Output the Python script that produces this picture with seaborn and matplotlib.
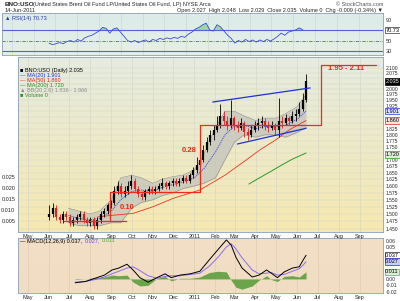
import numpy as np
import pandas as pd
import matplotlib
matplotlib.use("Agg")
import matplotlib.pyplot as plt
from matplotlib.colors import LinearSegmentedColormap
from matplotlib.ticker import FixedLocator, NullLocator, NullFormatter, FormatStrFormatter
import seaborn as sns

# ---------------- data ----------------
bar_start, bar_end, n_bars = "2010-06-02", "2011-06-14", 76
opens = [1.49,1.50,1.52,1.49,1.48,1.50,1.49,1.47,1.48,1.49,1.50,1.48,1.47,1.48,1.46,1.48,1.50,1.51,1.53,1.54,
         1.58,1.60,1.57,1.58,1.60,1.62,1.59,1.57,1.56,1.58,1.59,1.58,1.59,1.60,1.61,1.60,1.61,1.62,1.61,1.62,
         1.63,1.62,1.64,1.66,1.68,1.70,1.74,1.77,1.80,1.82,1.84,1.88,1.86,1.84,1.87,1.84,1.83,1.85,1.81,1.80,
         1.82,1.84,1.85,1.86,1.84,1.83,1.84,1.82,1.86,1.85,1.87,1.86,1.88,1.89,1.91,1.95]
highs = [1.53,1.54,1.53,1.50,1.51,1.51,1.50,1.49,1.50,1.51,1.51,1.49,1.49,1.49,1.49,1.51,1.52,1.54,1.55,1.60,
         1.62,1.61,1.60,1.62,1.64,1.63,1.60,1.58,1.59,1.60,1.60,1.60,1.61,1.63,1.62,1.62,1.63,1.63,1.63,1.64,
         1.64,1.65,1.67,1.71,1.71,1.76,1.79,1.82,1.84,1.88,1.93,1.90,1.88,1.95,1.88,1.86,1.87,1.86,1.83,1.84,
         1.86,1.87,1.88,1.87,1.86,1.86,1.85,1.96,1.88,1.89,1.88,1.90,1.91,1.94,1.98,2.07]
lows = [1.48,1.49,1.48,1.47,1.47,1.48,1.46,1.46,1.47,1.48,1.47,1.46,1.46,1.45,1.45,1.47,1.49,1.50,1.52,1.53,
        1.57,1.56,1.56,1.57,1.59,1.58,1.56,1.55,1.55,1.57,1.57,1.57,1.58,1.59,1.59,1.59,1.60,1.60,1.60,1.61,
        1.61,1.61,1.63,1.65,1.66,1.69,1.73,1.76,1.78,1.81,1.83,1.84,1.82,1.83,1.82,1.81,1.82,1.79,1.78,1.79,
        1.81,1.82,1.83,1.82,1.81,1.82,1.80,1.79,1.83,1.84,1.84,1.85,1.86,1.88,1.90,1.94]
closes = [1.50,1.52,1.49,1.48,1.50,1.49,1.47,1.48,1.49,1.50,1.48,1.47,1.48,1.46,1.48,1.50,1.51,1.53,1.54,1.58,
          1.60,1.57,1.58,1.60,1.62,1.59,1.57,1.56,1.58,1.59,1.58,1.59,1.60,1.61,1.60,1.61,1.62,1.61,1.62,1.63,
          1.62,1.64,1.66,1.68,1.70,1.74,1.77,1.80,1.82,1.84,1.88,1.86,1.84,1.87,1.84,1.83,1.85,1.81,1.80,1.82,
          1.84,1.85,1.86,1.84,1.83,1.84,1.82,1.86,1.85,1.87,1.86,1.88,1.89,1.91,1.95,2.035]
volume = [0.004,0.005,0.003,0.004,0.003,0.002,0.003,0.002,0.003,0.002,0.003,0.002,0.003,0.004,0.003,0.002,0.003,0.004,0.003,0.005,
          0.005,0.004,0.003,0.004,0.003,0.004,0.003,0.002,0.003,0.002,0.004,0.003,0.005,0.006,0.003,0.002,0.003,0.002,0.002,0.003,
          0.002,0.002,0.003,0.002,0.003,0.002,0.003,0.004,0.003,0.005,0.004,0.003,0.004,0.008,0.006,0.007,0.005,0.008,0.006,0.009,
          0.008,0.013,0.021,0.012,0.009,0.011,0.012,0.008,0.010,0.007,0.006,0.009,0.008,0.007,0.010,0.013]
rsi_vals = [45,42,44,46,44,48,50,47,52,49,55,58,60,64,68,75,73,64,72,74,66,58,50,47,50,46,49,51,47,52,50,54,52,55,53,56,
            54,58,56,62,66,72,75,80,83,70,68,80,76,68,60,54,45,50,47,52,48,51,47,51,48,52,49,53,58,64,60,66,68,70,74,70.73]

bb_dates = ["2010-06-30","2010-07-15","2010-08-01","2010-08-15","2010-09-01","2010-09-15","2010-10-01","2010-10-15",
            "2010-11-01","2010-11-15","2010-12-01","2010-12-15","2011-01-01","2011-01-15","2011-02-01","2011-02-15",
            "2011-03-01","2011-03-15","2011-04-01","2011-04-15","2011-05-01","2011-05-15","2011-06-01","2011-06-14"]
ma20 = [1.495,1.485,1.480,1.485,1.510,1.550,1.580,1.585,1.580,1.595,1.605,1.615,1.630,1.665,1.730,1.800,
        1.835,1.840,1.825,1.835,1.835,1.840,1.865,1.901]
bb_up = [1.52,1.51,1.50,1.51,1.55,1.63,1.64,1.63,1.61,1.625,1.635,1.64,1.66,1.72,1.83,1.90,
         1.90,1.88,1.86,1.87,1.87,1.89,1.92,1.975]
bb_lo = [1.47,1.46,1.46,1.46,1.47,1.47,1.52,1.54,1.55,1.565,1.575,1.59,1.60,1.61,1.63,1.70,
         1.77,1.80,1.79,1.80,1.80,1.79,1.81,1.83]

ma50_dates = ["2010-08-12","2010-09-01","2010-10-03","2010-11-01","2010-12-01","2011-01-09","2011-02-15",
              "2011-03-24","2011-04-07","2011-05-01","2011-05-20","2011-06-14"]
ma50 = [1.49,1.495,1.502,1.525,1.555,1.585,1.64,1.71,1.738,1.78,1.82,1.86]
ma200_dates = ["2011-03-22","2011-04-10","2011-04-25","2011-05-10","2011-05-25","2011-06-14"]
ma200 = [1.607,1.635,1.657,1.680,1.702,1.726]

macd_dates = ["2010-07-10","2010-07-25","2010-08-08","2010-08-22","2010-09-02","2010-09-12","2010-09-24","2010-10-03",
              "2010-10-13","2010-10-25","2010-11-07","2010-11-19","2010-11-28","2010-12-11","2010-12-26","2011-01-09",
              "2011-01-23","2011-02-04","2011-02-17","2011-02-24","2011-03-03","2011-03-12","2011-03-27","2011-04-06",
              "2011-04-17","2011-04-24","2011-05-03","2011-05-13","2011-05-25","2011-06-04","2011-06-10","2011-06-14"]
macd = [-0.006,-0.004,0.001,0.006,0.014,0.017,0.023,0.014,0.002,-0.005,0.002,0.008,0.002,0.006,0.008,0.012,
        0.030,0.045,0.061,0.053,0.034,0.017,0.003,0.006,0.014,0.009,0.002,0.011,0.017,0.019,0.030,0.037]
signal = [-0.005,-0.004,-0.001,0.003,0.008,0.012,0.017,0.019,0.013,0.005,0.001,0.004,0.005,0.005,0.007,0.009,
          0.020,0.033,0.050,0.055,0.047,0.033,0.014,0.008,0.009,0.010,0.006,0.007,0.012,0.016,0.022,0.027]
hist = [-0.001,0.000,0.002,0.003,0.006,0.005,0.006,-0.005,-0.011,-0.010,0.001,0.004,-0.003,0.001,0.001,0.003,
        0.010,0.012,0.011,-0.002,-0.013,-0.016,-0.011,-0.002,0.005,-0.001,-0.004,0.004,0.005,0.003,0.008,0.011]

# measured-move annotation levels and dates
bracket_dates = ["2010-06-24","2010-08-30","2010-09-22","2011-01-09","2011-07-06","2011-09-24"]
bracket_levels = [1.475, 1.578, 1.840, 2.115]
channel_upper = (["2011-01-28","2011-06-20"], [1.941, 2.005])
channel_lower = (["2011-03-05","2011-06-14"], [1.762, 1.827])

month_ticks = ["2010-05-01","2010-06-01","2010-07-01","2010-08-01","2010-09-01","2010-10-01","2010-11-01",
               "2010-12-01","2011-01-01","2011-02-01","2011-03-01","2011-04-01","2011-05-01","2011-06-01",
               "2011-07-01","2011-08-01","2011-09-01"]
month_labels = ["May","Jun","Jul","Aug","Sep","Oct","Nov","Dec","2011","Feb","Mar","Apr","May","Jun","Jul","Aug","Sep"]
price_grid = [1.450,1.475,1.500,1.525,1.550,1.575,1.600,1.625,1.650,1.675,1.700,1.725,1.750,1.775,1.800,
              1.825,1.850,1.875,1.900,1.925,1.950,1.975,2.000,2.025,2.050,2.075,2.100]
price_labels = [1.450,1.475,1.500,1.525,1.550,1.575,1.600,1.625,1.650,1.675,1.700,1.750,1.775,1.800,
                1.825,1.925,1.950,1.975,2.000,2.075,2.100]
vol_ticks = [0.005,0.010,0.015,0.020,0.025]
macd_ticks = [-0.02, -0.01, 0.0, 0.05, 0.06]

# ---------------- styling ----------------
sns.set_theme(style="white")
plt.rcParams["font.family"] = ["Liberation Sans", "DejaVu Sans"]
FS = 4.0
W, H = 400, 301
fig = plt.figure(figsize=(4.0, 3.01), dpi=100)
fig.patch.set_facecolor("white")

XL = (pd.Timestamp("2010-04-17"), pd.Timestamp("2011-10-05"))
mt = pd.to_datetime(month_ticks)

def axpix(x0, y0, x1, y1, **kw):
    return fig.add_axes([x0 / W, 1 - y1 / H, (x1 - x0) / W, (y1 - y0) / H], **kw)

def panel(x0, y0, x1, y1, c_top, c_bot):
    bg = axpix(x0, y0, x1, y1)
    cmap = LinearSegmentedColormap.from_list("g", [c_top, c_bot])
    bg.imshow(np.linspace(0, 1, 64)[:, None], cmap=cmap, aspect="auto", extent=[0, 1, 0, 1], origin="upper")
    bg.set_axis_off()
    ax = axpix(x0, y0, x1, y1)
    ax.patch.set_alpha(0)
    for s in ax.spines.values():
        s.set_color("#8c9fb5")
        s.set_linewidth(0.6)
    ax.set_xlim(*XL)
    return ax

def box(ax, y, txt, fc, ec, tc="black", trans=None):
    ax.text(1.006, y, txt, transform=trans, fontsize=FS, color=tc, va="center", ha="left",
            bbox=dict(boxstyle="square,pad=0.12", fc=fc, ec=ec, lw=0.5), clip_on=False, zorder=10)

def chain(prev, txt, color, fs=FS, gap=1.5):
    # place a text right after a previous text, on the same baseline
    return prev.axes.annotate(txt, xy=(1, 0), xycoords=prev, xytext=(gap, 0), textcoords="offset points",
                              fontsize=fs, color=color, va="bottom", ha="left") if prev.axes is not None else \
        fig.text(0, 0, "")

dates = pd.date_range(bar_start, bar_end, periods=n_bars)

# ---------------- RSI panel ----------------
ax_r = panel(2, 13, 383, 55, "#dcebe9", "#e6efe6")
ax_r.set_ylim(22.4, 102.4)
rsi_df = pd.DataFrame({"date": dates[4:], "rsi": rsi_vals})
for lv in (70, 30):
    ax_r.axhline(lv, color="#5560dd", lw=0.8)
ax_r.axhline(50, color="#5560dd", lw=0.6, ls=(0, (4, 1.5, 1, 1.5)))
for d in mt:
    ax_r.axvline(d, color="#c9d3d3", lw=0.4, zorder=0)
ax_r.fill_between(rsi_df["date"], 70, rsi_df["rsi"], where=np.array(rsi_vals) > 70,
                  color="#8fd08f", alpha=0.8, interpolate=True, lw=0)
sns.lineplot(data=rsi_df, x="date", y="rsi", ax=ax_r, color="#3a4bd0", lw=0.6)
ax_r.set_xlabel(""); ax_r.set_ylabel("")
ax_r.xaxis.set_major_locator(NullLocator())
ax_r.yaxis.tick_right()
ax_r.yaxis.set_major_locator(FixedLocator([90, 50, 30]))
ax_r.tick_params(axis="y", labelsize=FS, length=0, pad=2)
box(ax_r, 70, "70.73", "white", "#333333", trans=ax_r.get_yaxis_transform())
ax_r.text(0.008, 0.88, "\u25b2 RSI(14) 70.73", transform=ax_r.transAxes, fontsize=FS, color="#2a3aa0", va="center")

# ---------------- price panel ----------------
ax_p = panel(18, 57, 383, 232, "#e5ece0", "#f6e8b0")
ax_p.set_yscale("log")
ax_p.set_ylim(1.439, 2.153)
for d in mt:
    ax_p.axvline(d, color="#d3d3c6", lw=0.4, zorder=0)
for t in price_grid:
    ax_p.axhline(t, color="#d6d6c8", lw=0.35, zorder=0)

# volume on twin axis
ax_v = ax_p.twinx()
ax_v.set_ylim(0, 0.0795)
vcol = ["#8cc47c" if i == 0 or closes[i] >= closes[i - 1] else "#e68a8a" for i in range(n_bars)]
ax_v.bar(dates, volume, width=3.2, color=vcol, alpha=0.85, lw=0)
ax_v.yaxis.tick_left()
ax_v.yaxis.set_major_locator(FixedLocator(vol_ticks))
ax_v.yaxis.set_major_formatter(FormatStrFormatter("%.3f"))
ax_v.tick_params(axis="y", labelsize=FS, length=0, pad=2)
for s in ax_v.spines.values():
    s.set_visible(False)
ax_v.set_zorder(ax_p.get_zorder() - 0.5)
ax_p.set_zorder(ax_v.get_zorder() + 1)
ax_p.patch.set_alpha(0)

# Bollinger bands and moving averages
bbd = pd.to_datetime(bb_dates)
ax_p.fill_between(bbd, bb_lo, bb_up, color="#c3c3bb", alpha=0.75, lw=0)
bb_df = pd.DataFrame({"date": bbd, "up": bb_up, "lo": bb_lo, "ma20": ma20})
sns.lineplot(data=bb_df, x="date", y="up", ax=ax_p, color="#9a9a95", lw=0.5)
sns.lineplot(data=bb_df, x="date", y="lo", ax=ax_p, color="#9a9a95", lw=0.5)
sns.lineplot(data=bb_df, x="date", y="ma20", ax=ax_p, color="#3344dd", lw=0.6, ls=(0, (1.5, 1)))
sns.lineplot(data=pd.DataFrame({"date": pd.to_datetime(ma50_dates), "v": ma50}), x="date", y="v",
             ax=ax_p, color="#ee3322", lw=0.6)
sns.lineplot(data=pd.DataFrame({"date": pd.to_datetime(ma200_dates), "v": ma200}), x="date", y="v",
             ax=ax_p, color="#2a9a2a", lw=0.7)

# candles
ccol = ["black" if i == 0 or closes[i] >= closes[i - 1] else "#e02020" for i in range(n_bars)]
ax_p.vlines(dates, lows, highs, colors=ccol, lw=0.6, zorder=5)
ax_p.vlines(dates, opens, closes, colors=ccol, lw=1.6, zorder=5)

# measured-move brackets
bd = pd.to_datetime(bracket_dates)
L = bracket_levels
red = "#ee2a1a"
segs = [((bd[0], L[0]), (bd[2], L[0])), ((bd[1], L[0]), (bd[1], L[1])), ((bd[1], L[1]), (bd[3], L[1])),
        ((bd[3], L[1]), (bd[3], L[2])), ((bd[3], L[2]), (bd[4], L[2])), ((bd[4], L[2]), (bd[4], L[3])),
        ((bd[4], L[3]), (bd[5], L[3]))]
for (xa, ya), (xb, yb) in segs:
    ax_p.plot([xa, xb], [ya, yb], color=red, lw=0.9, zorder=6)
ax_p.text(pd.Timestamp("2010-09-13"), 1.524, "0.10", color=red, fontsize=5.5, fontweight="bold", ha="left", va="center")
ax_p.text(pd.Timestamp("2011-01-04"), 1.738, "0.28", color=red, fontsize=5.5, fontweight="bold", ha="right", va="center")
ax_p.text(pd.Timestamp("2011-08-12"), 2.099, "1.95 - 2.11", color=red, fontsize=5.5, fontweight="bold", ha="center", va="center")
for cd, cv in [channel_upper, channel_lower]:
    ax_p.plot(pd.to_datetime(cd), cv, color="#1f2fe0", lw=0.9, zorder=6)

ax_p.set_xlabel(""); ax_p.set_ylabel("")
ax_p.yaxis.tick_right()
ax_p.yaxis.set_major_locator(FixedLocator(price_labels))
ax_p.yaxis.set_minor_locator(NullLocator())
ax_p.yaxis.set_minor_formatter(NullFormatter())
ax_p.yaxis.set_major_formatter(FormatStrFormatter("%.3f"))
ax_p.tick_params(axis="y", labelsize=3.6, length=0, pad=2)
ax_p.set_xticks(mt)
ax_p.set_xticklabels(month_labels)
ax_p.tick_params(axis="x", labelsize=FS, length=0, pad=1.5)
ax_p.set_xlim(*XL)
ytr = ax_p.get_yaxis_transform()
box(ax_p, 2.035, "2.035", "black", "black", tc="white", trans=ytr)
box(ax_p, 1.901, "1.901", "#dfe3ff", "#2233dd", trans=ytr)
box(ax_p, 1.860, "1.860", "#ffe3e0", "#dd2222", trans=ytr)
box(ax_p, 1.720, "1.720", "#d8f0d0", "#2a9a2a", trans=ytr)

leg = [("\u25a0 BNO:USO (Daily) 2.035", "black"), ("\u2014 MA(20) 1.901", "#2233dd"),
       ("\u2014 MA(50) 1.860", "#dd2222"), ("\u2014 MA(200) 1.720", "#2a8a2a"),
       ("\u25b2 BB(20,2.0) 1.836 - 1.966", "#8a8a8a"), ("\u25a0 Volume 0", "#3a8a3a")]
for i, (t, c) in enumerate(leg):
    ax_p.text(0.006, 0.925 - i * 0.0285, t, transform=ax_p.transAxes, fontsize=FS, color=c, va="center")

# ---------------- MACD panel ----------------
ax_m = panel(18, 238, 383, 293, "#f3dfc6", "#f1ddc3")
ax_m.set_ylim(-0.022, 0.064)
for d in mt:
    ax_m.axvline(d, color="#dcc8b0", lw=0.4, zorder=0)
md = pd.to_datetime(macd_dates)
ax_m.fill_between(md, 0, hist, color="#5e9e3e", alpha=0.9, lw=0)
mdf = pd.DataFrame({"date": md, "macd": macd, "signal": signal})
sns.lineplot(data=mdf, x="date", y="signal", ax=ax_m, color="#8a6cf0", lw=0.7)
sns.lineplot(data=mdf, x="date", y="macd", ax=ax_m, color="black", lw=0.7)
ax_m.set_xlabel(""); ax_m.set_ylabel("")
ax_m.yaxis.tick_right()
ax_m.yaxis.set_major_locator(FixedLocator(macd_ticks))
ax_m.yaxis.set_major_formatter(FormatStrFormatter("%.2f"))
ax_m.tick_params(axis="y", labelsize=3.6, length=0, pad=2)
ax_m.set_xticks(mt)
ax_m.set_xticklabels(month_labels)
ax_m.tick_params(axis="x", labelsize=FS, length=0, pad=1.5)
ax_m.set_xlim(*XL)
mtr = ax_m.get_yaxis_transform()
box(ax_m, 0.037, "0.037", "white", "#222222", trans=mtr)
box(ax_m, 0.027, "0.027", "#c8ccff", "#2233dd", trans=mtr)
box(ax_m, 0.011, "0.011", "#d8f0d0", "#6aa84f", trans=mtr)
m1 = ax_m.text(0.006, 0.90, "\u2014 MACD(12,26,9) 0.037,", transform=ax_m.transAxes, fontsize=FS,
               color="black", va="bottom")
m2 = ax_m.annotate("0.027,", xy=(1, 0), xycoords=m1, xytext=(1.5, 0), textcoords="offset points",
                   fontsize=FS, color="#6a4ce0", va="bottom", ha="left")
ax_m.annotate("0.011", xy=(1, 0), xycoords=m2, xytext=(1.5, 0), textcoords="offset points",
              fontsize=FS, color="#5e9e3e", va="bottom", ha="left")

# ---------------- header text ----------------
t1 = fig.text(5 / W, 1 - 7 / H, "BNO:USO", fontsize=4.6, fontweight="bold", va="bottom")
fig.text(33 / W, 1 - 7 / H, "(United States Brent Oil Fund LP/United States Oil Fund, LP) NYSE Arca",
         fontsize=FS, va="bottom")
fig.text(5 / W, 1 - 10.5 / H, "14-Jun-2011", fontsize=FS, va="center")
fig.text(383 / W, 1 - 4 / H, "\u00a9 StockCharts.com", fontsize=FS, va="center", ha="right", color="#555555")
fig.text(383 / W, 1 - 10.5 / H, "Open 2.027  High 2.048  Low 2.029  Close 2.035  Volume 0  Chg -0.009 (-0.34%) \u25bc",
         fontsize=FS, va="center", ha="right")

fig.savefig("out.png", dpi=100)
